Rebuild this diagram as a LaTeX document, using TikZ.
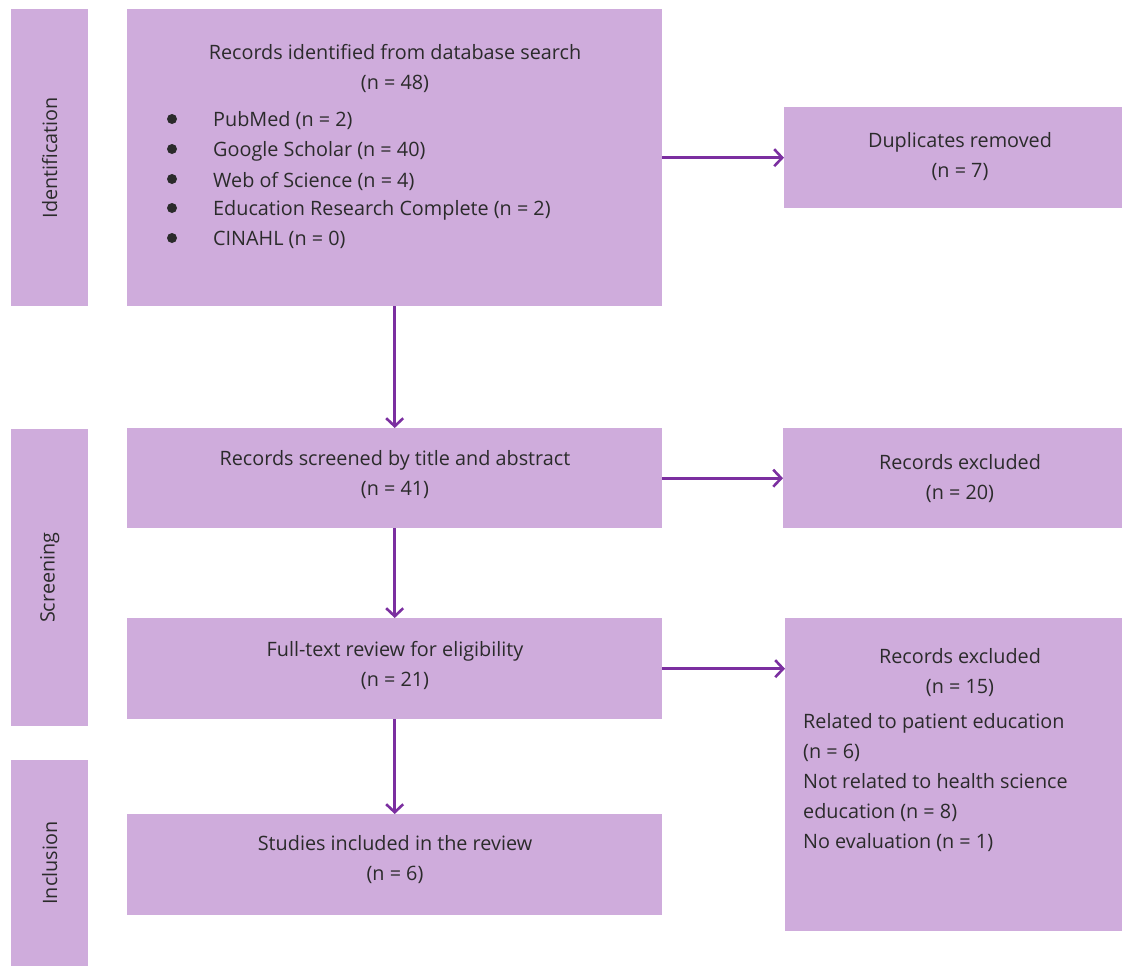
\documentclass[tikz,border=0pt]{standalone}
\usepackage{fontspec}
\setmainfont{Open Sans}
\usetikzlibrary{arrows.meta}
\definecolor{boxfill}{HTML}{CFACDC}
\definecolor{arrcol}{HTML}{7B2FA0}
\definecolor{txt}{HTML}{2B2B2B}
\tikzset{
  box/.style={fill=boxfill, draw=none, inner sep=0pt, anchor=north west},
  lbl/.style={text=txt, font=\fontsize{19.8}{30}\selectfont, inner sep=0pt, align=center},
  lbll/.style={text=txt, font=\fontsize{19.8}{30}\selectfont, inner sep=0pt, align=left, anchor=west},
  side/.style={text=txt, font=\fontsize{19.8}{30}\selectfont, inner sep=0pt, rotate=90},
  bul/.style={circle, fill=txt, inner sep=0pt, minimum size=10pt},
  arr/.style={draw=arrcol, line width=2.6pt, -{Straight Barb[length=8pt,width=17pt,line width=2.6pt]}}
}
\begin{document}
\begin{tikzpicture}[x=1pt,y=-1pt]
\useasboundingbox (0,0) rectangle (1123,966);
% side boxes
\node[box, minimum width=77pt, minimum height=297pt] (sid) at (11,9) {};
\node[box, minimum width=77pt, minimum height=297pt] (ssc) at (11,429) {};
\node[box, minimum width=77pt, minimum height=206pt] (sin) at (11,760) {};
\node[side] (tid) at (sid.center) {Identification};
\node[side] (tsc) at (ssc.center) {Screening};
\node[side] (tin) at (sin.center) {Inclusion};
% main boxes
\node[box, minimum width=535pt, minimum height=297pt] (b1) at (127,9) {};
\node[box, minimum width=338pt, minimum height=101pt] (dup) at (784,107) {};
\node[box, minimum width=535pt, minimum height=100pt] (scr) at (127,428) {};
\node[box, minimum width=339pt, minimum height=100pt] (ex1) at (783,428) {};
\node[box, minimum width=535pt, minimum height=101pt] (ft) at (127,618) {};
\node[box, minimum width=337pt, minimum height=313pt] (ex2) at (785,618) {};
\node[box, minimum width=535pt, minimum height=101pt] (inc) at (127,814) {};
% texts
\node[lbl] (t1) at (395,68) {Records identified from database search\\(n = 48)};
\node[bul] (bl1) at (172,119) {};
\node[bul] (bl2) at (172,149) {};
\node[bul] (bl3) at (172,179) {};
\node[bul] (bl4) at (172,208) {};
\node[bul] (bl5) at (172,238) {};
\node[lbll] (l1) at (213,121) {PubMed (n = 2)};
\node[lbll] (l2) at (213,151) {Google Scholar (n = 40)};
\node[lbll] (l3) at (213,181) {Web of Science (n = 4)};
\node[lbll] (l4) at (213,210) {Education Research Complete (n = 2)};
\node[lbll] (l5) at (213,240) {CINAHL (n = 0)};
\node[lbl] (tdup) at (960,157) {Duplicates removed\\(n = 7)};
\node[lbl] (tscr) at (395,475) {Records screened by title and abstract\\(n = 41)};
\node[lbl] (tex1) at (960,479) {Records excluded\\(n = 20)};
\node[lbl] (tft) at (395,665) {Full-text review for eligibility\\(n = 21)};
\node[lbl] (tex2) at (960,673) {Records excluded\\(n = 15)};
\node[lbll, anchor=north west] (tex2b) at (803,713) {Related to patient education\\(n = 6)\\Not related to health science\\education (n = 8)\\No evaluation (n = 1)};
\node[lbl] (tinc) at (395,860) {Studies included in the review\\(n = 6)};
% arrows
\draw[arr] (b1.east |- dup.west) -- (dup.west);
\draw[arr] (b1.south -| scr.north) -- (scr.north);
\draw[arr] (scr.east) -- (ex1.west);
\draw[arr] (scr.south) -- (ft.north);
\draw[arr] (ft.east) -- (ft.east -| ex2.west);
\draw[arr] (ft.south) -- (inc.north);
\end{tikzpicture}
\end{document}
